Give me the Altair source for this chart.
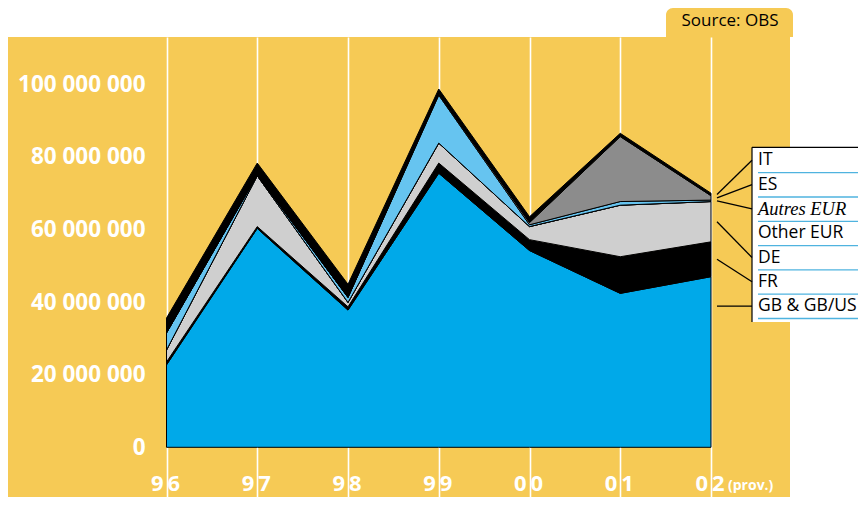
import altair as alt
import pandas as pd

# ---------------- data (millions) ----------------
years = ["96", "97", "98", "99", "00", "01", "02"]
series = ["GB & GB/US", "FR", "DE", "Other EUR", "Autres EUR", "ES", "IT"]
gb = [22.7, 60.3, 37.8, 75.5, 54.2, 42.4, 47.0]
fr = [0.8, 0.5, 0.9, 2.8, 3.0, 10.1, 9.6]
de = [3.3, 14.0, 1.2, 5.5, 3.6, 14.2, 11.1]
other_eur = [0.0, 0.0, 0.0, 0.0, 0.0, 0.0, 0.0]
autres_eur = [4.7, 0.2, 1.4, 13.2, 0.5, 1.0, 0.4]
es = [0.0, 0.0, 0.0, 0.3, 0.6, 17.9, 1.2]
it = [4.1, 3.3, 3.6, 1.4, 1.6, 0.9, 0.7]
colors = ["#00A9E9", "#000000", "#CFCFCF", "#FFFFFF", "#66C4F0", "#8C8C8C", "#000000"]
legend_order = ["IT", "ES", "Autres EUR", "Other EUR", "DE", "FR", "GB & GB/US"]
y_ticks = [0, 20_000_000, 40_000_000, 60_000_000, 80_000_000, 100_000_000]
source_text = ["Source: OBS"]
prov_text = ["(prov.)"]

YELLOW = "#F6CA55"

# ---------------- layout helpers ----------------
W, H = 782, 460
PAD_TOP = 29
zero_px = 410.3          # plot-y of value 0
px_per_m = 3.63          # pixels per million
x0_px, x_step = 158.5, 90.75

x_scale = alt.Scale(domain=[-x0_px / x_step, (W - x0_px) / x_step], nice=False, zero=False)
y_scale = alt.Scale(domain=[-(H - zero_px) / px_per_m * 1e6, zero_px / px_per_m * 1e6],
                    nice=False, zero=False)

x_axis = alt.Axis(values=list(range(len(years))), grid=True, gridColor="white",
                  gridWidth=1.6, gridOpacity=1, labels=False, ticks=False,
                  domain=False, title=None)
y_axis = alt.Axis(values=y_ticks, grid=False, ticks=False, domain=False, title=None,
                  labelExpr="replace(format(datum.value, ','), regexp(',', 'g'), ' ')",
                  labelColor="white", labelFont="Open Sans", labelFontWeight="bold",
                  labelFontSize=22.5, offset=-137, labelPadding=0, labelAlign="right",
                  labelBaseline="middle")

all_vals = [gb, fr, de, other_eur, autres_eur, es, it]
rows = []
for k, (name, vals) in enumerate(zip(series, all_vals)):
    for i, v in enumerate(vals):
        rows.append({"i": i, "year": years[i], "series": name, "k": k, "value": v * 1e6})
df = pd.DataFrame(rows)

area = alt.Chart(df).mark_area(stroke="black", strokeWidth=1, opacity=1).encode(
    x=alt.X("i:Q", scale=x_scale, axis=x_axis),
    y=alt.Y("value:Q", stack="zero", scale=y_scale, axis=y_axis),
    color=alt.Color("series:N", scale=alt.Scale(domain=series, range=colors), legend=None),
    order=alt.Order("k:Q", sort="ascending"),
)

# x labels split around the grid line
lab = pd.DataFrame({"i": list(range(len(years))),
                    "left": [y[0] for y in years],
                    "right": [y[1] for y in years]})
LAB_Y = 454
lab_font = dict(font="Open Sans", fontWeight="bold", fontSize=22, color="white",
                baseline="alphabetic")
x_left = alt.Chart(lab).mark_text(align="right", dx=-3, **lab_font).encode(
    x=alt.X("i:Q", scale=x_scale, axis=x_axis), y=alt.value(LAB_Y), text="left:N")
x_right = alt.Chart(lab).mark_text(align="left", dx=1, **lab_font).encode(
    x=alt.X("i:Q", scale=x_scale, axis=x_axis), y=alt.value(LAB_Y), text="right:N")
prov = alt.Chart(pd.DataFrame({"i": [len(years) - 1], "t": prov_text})).mark_text(
    align="left", dx=17, font="Open Sans", fontWeight="bold", fontSize=14, color="white",
    baseline="alphabetic").encode(
    x=alt.X("i:Q", scale=x_scale, axis=x_axis), y=alt.value(LAB_Y - 1), text="t:N")

# source box
src_df = pd.DataFrame({"t": source_text})
src_box = alt.Chart(src_df).mark_rect(fill=YELLOW, cornerRadiusTopLeft=7,
                                      cornerRadiusTopRight=7).encode(
    x=alt.value(658), x2=alt.value(785), y=alt.value(-29), y2=alt.value(0))
src_txt = alt.Chart(src_df).mark_text(align="center", baseline="middle", font="Open Sans",
                                      fontSize=17, color="black").encode(
    x=alt.value(722), y=alt.value(-16), text="t:N")

# legend box
LX0, LX1 = 744, 870
row0, row_step = 123.3, 24.3
leg_top, leg_bot = row0 - 13, row0 + row_step * 6 + 16
one = pd.DataFrame({"a": [0]})
leg_bg = alt.Chart(one).mark_rect(fill="white").encode(
    x=alt.value(LX0), x2=alt.value(LX1), y=alt.value(leg_top), y2=alt.value(leg_bot))
leg_left = alt.Chart(one).mark_rule(color="black", strokeWidth=1.2).encode(
    x=alt.value(LX0), y=alt.value(leg_top), y2=alt.value(leg_bot))
leg_topline = alt.Chart(one).mark_rule(color="black", strokeWidth=1.2).encode(
    x=alt.value(LX0), x2=alt.value(LX1), y=alt.value(leg_top))

layers = [area, x_left, x_right, prov, src_box, src_txt, leg_bg, leg_left, leg_topline]

# cumulative bands at the last year for leader lines
last = len(years) - 1
cum = 0.0
bands = {}
for name, vals in zip(series, all_vals):
    bands[name] = (cum, cum + vals[last])
    cum += vals[last]

for r, name in enumerate(legend_order):
    ypx = row0 + row_step * r
    ldf = pd.DataFrame({"t": [name]})
    if name == "Autres EUR":
        tfont = dict(font="Liberation Serif", fontStyle="italic", fontSize=18.5)
    else:
        tfont = dict(font="Open Sans", fontSize=17.5)
    layers.append(alt.Chart(ldf).mark_text(align="left", baseline="middle", color="black",
                                           **tfont).encode(
        x=alt.value(LX0 + 6), y=alt.value(ypx), text="t:N"))
    layers.append(alt.Chart(ldf).mark_rule(color="#4FB3DF", strokeWidth=1.3).encode(
        x=alt.value(LX0 + 6), x2=alt.value(LX1), y=alt.value(ypx + 12.4)))
    lo, hi = bands[name]
    if hi - lo > 0:
        lab_val = (zero_px - ypx) / px_per_m
        anchor = lab_val if lo <= lab_val <= hi else (lo + hi) / 2
        adf = pd.DataFrame({"anchor": [anchor * 1e6]})
        layers.append(alt.Chart(adf).mark_rule(color="black", strokeWidth=1.3).encode(
            x=alt.value(709), x2=alt.value(LX0),
            y=alt.Y("anchor:Q", scale=y_scale, axis=y_axis),
            y2=alt.value(ypx)))

chart = alt.layer(*layers).properties(
    width=W, height=H,
    padding={"top": PAD_TOP, "left": 0, "right": 68, "bottom": 0},
    autosize=alt.AutoSizeParams(type="none"),
    background="white",
).configure_view(fill=YELLOW, stroke=None)

chart.save("out.html", embed_options={"renderer": "svg", "actions": False})
